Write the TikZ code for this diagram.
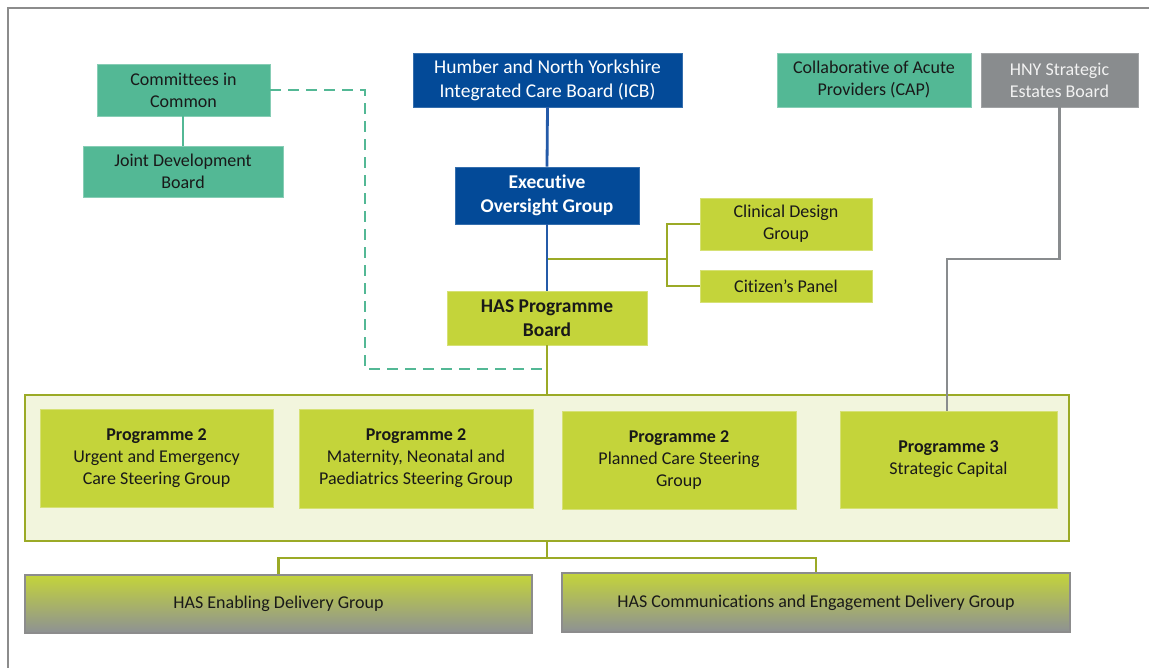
\documentclass[tikz,border=0pt]{standalone}
\usepackage{fontspec}
\setmainfont{Carlito}[Ligatures=CommonOff]
\definecolor{tealc}{RGB}{83,184,149}
\definecolor{navy}{RGB}{3,74,152}
\definecolor{lime}{RGB}{196,212,58}
\definecolor{greyb}{RGB}{137,140,142}
\definecolor{contfill}{RGB}{242,245,221}
\definecolor{olive}{RGB}{155,170,38}
\definecolor{blueline}{RGB}{36,90,168}
\definecolor{framec}{RGB}{140,140,140}
\definecolor{txt}{RGB}{25,25,25}
\definecolor{gradbot}{RGB}{141,145,148}
\begin{document}
\begin{tikzpicture}[x=1pt,y=-1pt,
  base/.style={rectangle, inner sep=0pt, align=center, text=txt,
    font=\fontsize{18}{22}\selectfont},
  tealbox/.style={base, fill=tealc, draw=tealc!70!white, line width=0.6pt},
  navybox/.style={base, fill=navy, text=white, draw=navy!80!white, line width=0.6pt},
  limebox/.style={base, fill=lime, draw=lime!70!white, line width=0.6pt},
  greybox/.style={base, fill=greyb, text=white!95!black, draw=greyb!80!white, line width=0.6pt},
  big/.style={font=\fontsize{19.5}{24}\selectfont},
  bigbold/.style={font=\fontsize{19.5}{24}\selectfont\bfseries},
  container/.style={rectangle, inner sep=0pt, fill=contfill, draw=olive, line width=2.2pt},
  delivery/.style={base, top color=lime, bottom color=gradbot, draw=framec, line width=2pt},
  olivelink/.style={draw=olive, line width=2.8pt},
  bluelink/.style={draw=blueline, line width=2.8pt},
  greylink/.style={draw=greyb, line width=2.8pt},
  teallink/.style={draw=tealc, line width=2.6pt},
  dashlink/.style={draw=tealc, line width=2.8pt, dash pattern=on 11pt off 7pt},
]
\useasboundingbox (0,0) rectangle (1149,668);
\fill[white] (0,0) rectangle (1149,668);
% frame (only top and left edges visible)
\draw[framec, line width=2pt] (8,668) -- (8,8) -- (1149,8);

% top nodes
\node[tealbox, minimum width=173pt, minimum height=52pt] (cic) at (183.5,90) {Committees in\\Common};
\node[tealbox, minimum width=200pt, minimum height=51pt] (jdb) at (183,171.5) {Joint Development\\Board};
\node[navybox, big, minimum width=269pt, minimum height=54pt] (icb) at (547.5,80) {Humber and North Yorkshire\\Integrated Care Board (ICB)};
\node[navybox, bigbold, minimum width=184pt, minimum height=57pt] (eog) at (547,195.5) {Executive\\Oversight Group};
\node[limebox, minimum width=172pt, minimum height=52pt] (cdg) at (786,224) {Clinical Design\\Group};
\node[limebox, minimum width=172pt, minimum height=32pt] (cp) at (786,286) {Citizen’s Panel};
\node[limebox, bigbold, minimum width=200pt, minimum height=54pt] (has) at (547,318) {HAS Programme\\Board};
\node[tealbox, minimum width=194pt, minimum height=54pt] (cap) at (874,80) {Collaborative of Acute\\Providers (CAP)};
\node[greybox, minimum width=157pt, minimum height=54pt] (hny) at (1059.5,80) {HNY Strategic\\Estates Board};

% programme container
\node[container, minimum width=1044pt, minimum height=146pt] (cont) at (547,468) {};
\node[limebox, minimum width=233pt, minimum height=98pt] (p1) at (156.5,458) {\textbf{Programme 2}\\Urgent and Emergency\\Care Steering Group};
\node[limebox, minimum width=234pt, minimum height=99pt] (p2) at (416,458.5) {\textbf{Programme 2}\\Maternity, Neonatal and\\Paediatrics Steering Group};
\node[limebox, minimum width=234pt, minimum height=98pt] (p3) at (679,460) {\textbf{Programme 2}\\Planned Care Steering\\Group};
\node[limebox, minimum width=217pt, minimum height=97pt] (p4) at (948.5,459.5) {\textbf{Programme 3}\\Strategic Capital};

% delivery groups
\node[delivery, minimum width=507pt, minimum height=58pt] (enab) at (278.5,604) {HAS Enabling Delivery Group};
\node[delivery, minimum width=508pt, minimum height=59pt] (comm) at (816,602.5) {HAS Communications and Engagement Delivery Group};

% connectors
\draw[teallink] (cic.south -| jdb.north) -- (jdb.north);
\coordinate (d1) at (365,369);
\draw[dashlink] (cic.east) -| (d1) -- (d1 -| has.south);

\coordinate (j) at (547,259);
\coordinate (br) at (667,259);
\draw[olivelink] (j) -- (br);
\draw[olivelink] (cdg.west) -| (br) |- (cp.west);

\draw[bluelink] (icb.south) -- (eog.north);
\draw[bluelink] (eog.south) -- (has.north);

\coordinate (g1) at (947,259);
\draw[greylink] (hny.south) |- (g1) -- (g1 |- p4.north);

\draw[olivelink] (has.south) -- (cont.north);
\coordinate (b) at (547,558);
\draw[olivelink] (cont.south) -- (b);
\draw[olivelink] (b) -| (enab.north);
\draw[olivelink] (b) -| (comm.north);
\end{tikzpicture}
\end{document}
